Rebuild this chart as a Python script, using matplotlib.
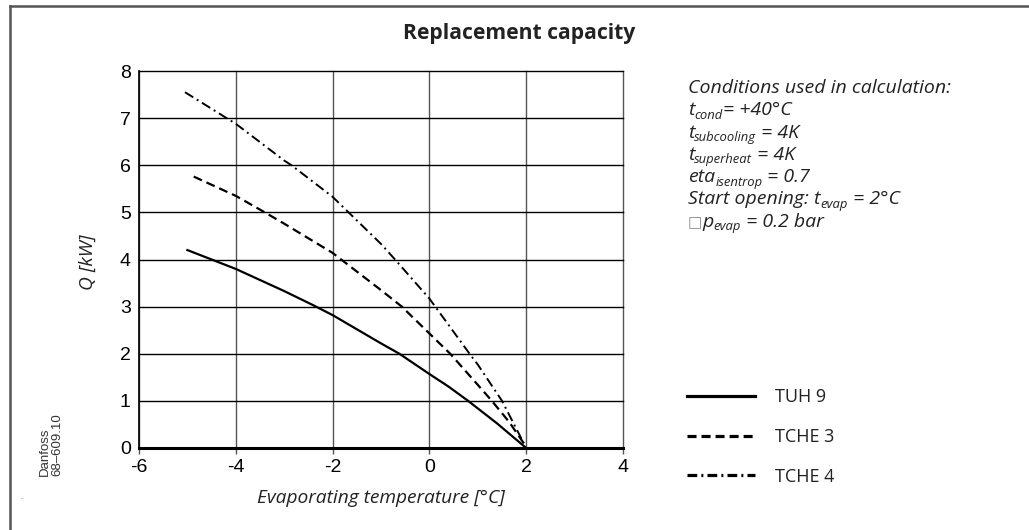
import matplotlib
matplotlib.use("Agg")
import matplotlib.pyplot as plt
from matplotlib.lines import Line2D

plt.rcParams['lines.scale_dashes'] = False

# ---- data ----
tuh9_x = [-5.0, -4.5, -4.0, -3.0, -2.4, -2.0, -1.0, -0.62, 0.0, 0.4, 0.8, 1.4, 2.0]
tuh9_y = [4.2, 4.0, 3.8, 3.33, 3.03, 2.82, 2.22, 2.0, 1.57, 1.3, 1.0, 0.52, 0.0]

tche3_x = [-4.87, -4.0, -3.4, -3.0, -2.0, -1.0, -0.57, 0.0, 0.43, 1.0, 1.29, 1.65, 1.95]
tche3_y = [5.76, 5.35, 5.0, 4.76, 4.14, 3.35, 3.0, 2.43, 2.0, 1.34, 1.0, 0.55, 0.1]

tche4_x = [-5.05, -4.19, -4.0, -3.0, -2.85, -2.0, -1.0, -0.71, 0.0, 0.83, 1.0, 1.5, 1.95]
tche4_y = [7.55, 7.0, 6.88, 6.1, 6.0, 5.33, 4.33, 4.0, 3.17, 2.0, 1.77, 1.0, 0.1]

x_ticks = [-6, -4, -2, 0, 2, 4]
y_ticks = [0, 1, 2, 3, 4, 5, 6, 7, 8]
series_labels = ["TUH 9", "TCHE 3", "TCHE 4"]

# conditions: (text, kind) with kind 'n' normal, 's' subscript, 'b' box glyph
cond_lines = [
    [("Conditions used in calculation:", 'n')],
    [("t", 'n'), ("cond", 's'), ("= +40°C", 'n')],
    [("t", 'n'), ("subcooling", 's'), (" = 4K", 'n')],
    [("t", 'n'), ("superheat", 's'), (" = 4K", 'n')],
    [("eta", 'n'), ("isentrop", 's'), (" = 0.7", 'n')],
    [("Start opening: t", 'n'), ("evap", 's'), (" = 2°C", 'n')],
    [("\u25a1", 'b'), ("p", 'n'), ("evap", 's'), (" = 0.2 bar", 'n')],
]

DASHED = (0, (6.5, 3.6))
DASHDOT = (0, (7, 3, 1.4, 3))
TXT = '#222222'
W, H = 1029, 530

fig = plt.figure(figsize=(10.29, 5.30), dpi=100)
ax = fig.add_axes([139/W, 82/H, 484/W, 377/H])

ax.set_xlim(-6, 4)
ax.set_ylim(0, 8)
ax.set_xticks(x_ticks)
ax.set_yticks(y_ticks)
ax.set_xticklabels([str(v) for v in x_ticks], fontfamily='Liberation Sans', fontsize=14)
ax.set_yticklabels([str(v) for v in y_ticks], fontfamily='Liberation Sans', fontsize=14)
ax.tick_params(axis='x', length=4, width=1, color='#555555', pad=4)
ax.tick_params(axis='y', length=0, pad=6)

for v in x_ticks:
    ax.axvline(v, color='#555555', lw=1.0, zorder=1, clip_on=False)
for v in y_ticks:
    ax.axhline(v, color='black', lw=1.0, zorder=1, clip_on=False)
ax.axhline(0, color='black', lw=2.2, zorder=3, clip_on=False)
for s in ax.spines.values():
    s.set_visible(False)
ax.spines['left'].set_visible(True)
ax.spines['left'].set_color('black')
ax.spines['left'].set_linewidth(1.2)

ax.plot(tuh9_x, tuh9_y, color='black', lw=1.6, zorder=4)
ax.plot(tche3_x, tche3_y, color='black', lw=1.6, linestyle=DASHED, zorder=4)
ax.plot(tche4_x, tche4_y, color='black', lw=1.4, linestyle=DASHDOT, zorder=4)

ax.set_xlabel("Evaporating temperature [°C]", fontfamily='Open Sans', style='italic',
              fontsize=13.8, color=TXT, labelpad=9)
fig.text(88/W, 1 - 262/H, "Q [kW]", rotation=90, ha='center', va='center',
         fontfamily='Open Sans', style='italic', fontsize=13.8, color=TXT)

fig.text(519/W, 1 - 33/H, "Replacement capacity", ha='center', va='center',
         fontfamily='Open Sans', fontweight='bold', fontsize=15.2, color=TXT)

# conditions text, laid out segment by segment
renderer = fig.canvas.get_renderer()
x_cond = 688
base0 = 93          # baseline of first line, px from top
step = 22.3
for i, segs in enumerate(cond_lines):
    xx = x_cond
    base = base0 + i * step
    for txt, kind in segs:
        if kind == 'n':
            t = fig.text(xx/W, 1 - base/H, txt, ha='left', va='baseline',
                         fontfamily='Open Sans', style='italic', fontsize=14, color=TXT)
        elif kind == 's':
            t = fig.text(xx/W, 1 - (base + 3.5)/H, txt, ha='left', va='baseline',
                         fontfamily='Open Sans', style='italic', fontsize=9.4, color=TXT)
        else:
            t = fig.text(xx/W, 1 - base/H, txt, ha='left', va='baseline',
                         fontfamily='DejaVu Sans', fontsize=11, color='#888888')
        bb = t.get_window_extent(renderer)
        xx += bb.width

# legend
handles = [
    Line2D([], [], color='black', lw=2.3),
    Line2D([], [], color='black', lw=2.3, linestyle=DASHED),
    Line2D([], [], color='black', lw=2.3, linestyle=DASHDOT),
]
leg = fig.legend(handles, series_labels, loc='center left',
                 bbox_to_anchor=(671/W, 1 - 437/H), frameon=False,
                 handlelength=3.75, handletextpad=1.1, labelspacing=1.2,
                 prop={'family': 'Open Sans', 'size': 13})
for t in leg.get_texts():
    t.set_color(TXT)

# Danfoss code
fig.text(51/W, 1 - 476/H, "Danfoss\n68\u2013609.10", rotation=90, ha='center', va='bottom',
         multialignment='left', fontfamily='Liberation Sans', fontsize=9.5, color='#333333',
         linespacing=1.0)
fig.text(21/W, 1 - 497/H, ".", fontsize=5, color='#555555', ha='center', va='center')

# border (top and left)
fig.add_artist(Line2D([10/W, 10/W], [0, 1 - 6/H], transform=fig.transFigure,
                      color='#555555', lw=1.8))
fig.add_artist(Line2D([10/W, 1], [1 - 6/H, 1 - 6/H], transform=fig.transFigure,
                      color='#555555', lw=1.8))

fig.savefig("out.png", dpi=100)
